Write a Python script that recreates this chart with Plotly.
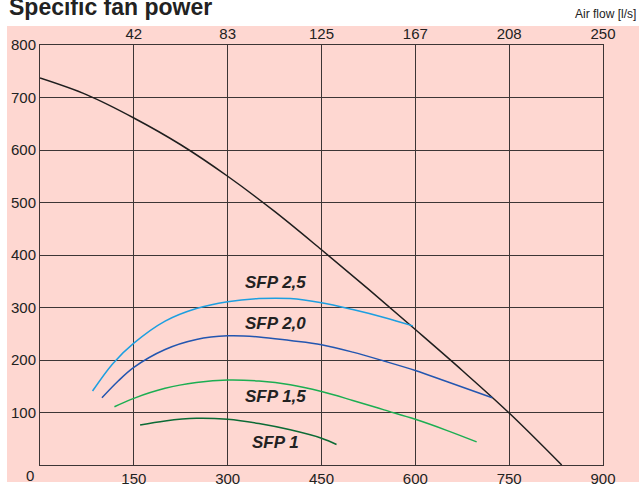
import plotly.graph_objects as go

# Data
system_x = [0, 75, 150, 225, 300, 375, 450, 525, 600, 675, 750, 834]
system_y = [737, 705, 661, 610, 550, 483, 410, 335, 258, 180, 99, 0]

sfp25_x = [84, 117, 150, 200, 250, 300, 350, 400, 450, 500, 550, 596]
sfp25_y = [141, 194, 232, 274, 298, 311, 317, 317, 309, 296, 281, 265]

sfp20_x = [99, 125, 150, 200, 250, 300, 350, 400, 450, 500, 550, 600, 650, 723]
sfp20_y = [128, 160, 186, 220, 239, 246, 244, 237, 229, 215, 198, 180, 159, 128]

sfp15_x = [119, 150, 200, 250, 300, 350, 400, 450, 500, 550, 600, 650, 698]
sfp15_y = [111, 127, 146, 157, 162, 160, 153, 140, 123, 105, 87, 66, 44]

sfp10_x = [160, 200, 250, 300, 350, 400, 450, 474]
sfp10_y = [76, 84, 89, 87, 79, 67, 51, 39]

bottom_ticks = [150, 300, 450, 600, 750, 900]
top_tick_labels = ["42", "83", "125", "167", "208", "250"]
left_ticks = [100, 200, 300, 400, 500, 600, 700, 800]

labels = ["SFP 2,5", "SFP 2,0", "SFP 1,5", "SFP 1"]
label_x = [376, 376, 376, 376]
label_y = [347, 270, 130, 42]

PINK = "#fed7d1"
GRID = "#3d3535"
FONT = "Liberation Sans, Arial, sans-serif"

W_PLOT = 563.0
H_PAPER = 423.0  # paper area height (plot 420 + 3 for top axis)
def px(x):
    return (x - 40) / W_PLOT
def py(y):
    return (465 - y) / H_PAPER

fig = go.Figure()
fig.add_trace(go.Scatter(x=system_x, y=system_y, mode="lines",
                         line=dict(color="#1e1e1e", width=1.5, shape="spline"),
                         hoverinfo="skip"))
curves = [(sfp25_x, sfp25_y, "#1d9fe0"), (sfp20_x, sfp20_y, "#2356b0"),
          (sfp15_x, sfp15_y, "#1cae52"), (sfp10_x, sfp10_y, "#0b6b35")]
for xs, ys, c in curves:
    fig.add_trace(go.Scatter(x=xs, y=ys, mode="lines",
                             line=dict(color=c, width=1.5, shape="spline"),
                             hoverinfo="skip"))
# invisible trace on top axis
fig.add_trace(go.Scatter(x=[0, 900], y=[0, 0], xaxis="x2", mode="lines",
                         line=dict(width=0), hoverinfo="skip", showlegend=False,
                         opacity=0))

for t, x, y in zip(labels, label_x, label_y):
    fig.add_annotation(x=x, y=y, text="<b><i>" + t + "</i></b>", showarrow=False,
                       font=dict(family=FONT, size=17, color="#222"))

fig.add_annotation(xref="paper", yref="paper", x=px(7), y=py(22),
                   xanchor="left", yanchor="bottom", showarrow=False,
                   text="<b>Specific fan power</b>",
                   font=dict(family=FONT, size=23, color="#222"))
fig.add_annotation(xref="paper", yref="paper", x=px(638), y=py(14),
                   xanchor="right", yanchor="middle", showarrow=False,
                   text="Air flow [l/s]",
                   font=dict(family=FONT, size=12, color="#222"))
fig.add_annotation(xref="paper", yref="paper", x=px(30), y=py(476),
                   xanchor="center", yanchor="middle", showarrow=False,
                   text="0", font=dict(family=FONT, size=15, color="#222"))

fig.add_shape(type="rect", xref="paper", yref="paper",
              x0=px(7), x1=px(640), y0=py(482), y1=py(26),
              fillcolor=PINK, line=dict(width=0), layer="below")

fig.update_layout(
    width=639, height=487,
    margin=dict(l=40, r=36, t=42, b=22, autoexpand=False),
    paper_bgcolor="white", plot_bgcolor=PINK,
    showlegend=False,
    font=dict(family=FONT, size=15, color="#222"),
    xaxis=dict(range=[0, 900], tickvals=bottom_ticks, showgrid=True,
               gridcolor=GRID, gridwidth=1, showline=True, linecolor=GRID,
               linewidth=1, mirror=True, zeroline=False, ticks="",
               automargin=False, tickfont=dict(size=15, color="#222")),
    xaxis2=dict(range=[0, 900], overlaying="x", side="top", anchor="free",
                position=1, tickvals=bottom_ticks, ticktext=top_tick_labels,
                showgrid=False, showline=False, zeroline=False, ticks="",
                automargin=False, tickfont=dict(size=15, color="#222")),
    yaxis=dict(range=[0, 800], domain=[0, 420 / H_PAPER], tickvals=left_ticks,
               showgrid=True, gridcolor=GRID, gridwidth=1, showline=True,
               linecolor=GRID, linewidth=1, mirror=True, zeroline=False,
               ticks="", automargin=False, tickfont=dict(size=15, color="#222")),
)

fig.write_html("out.html")
